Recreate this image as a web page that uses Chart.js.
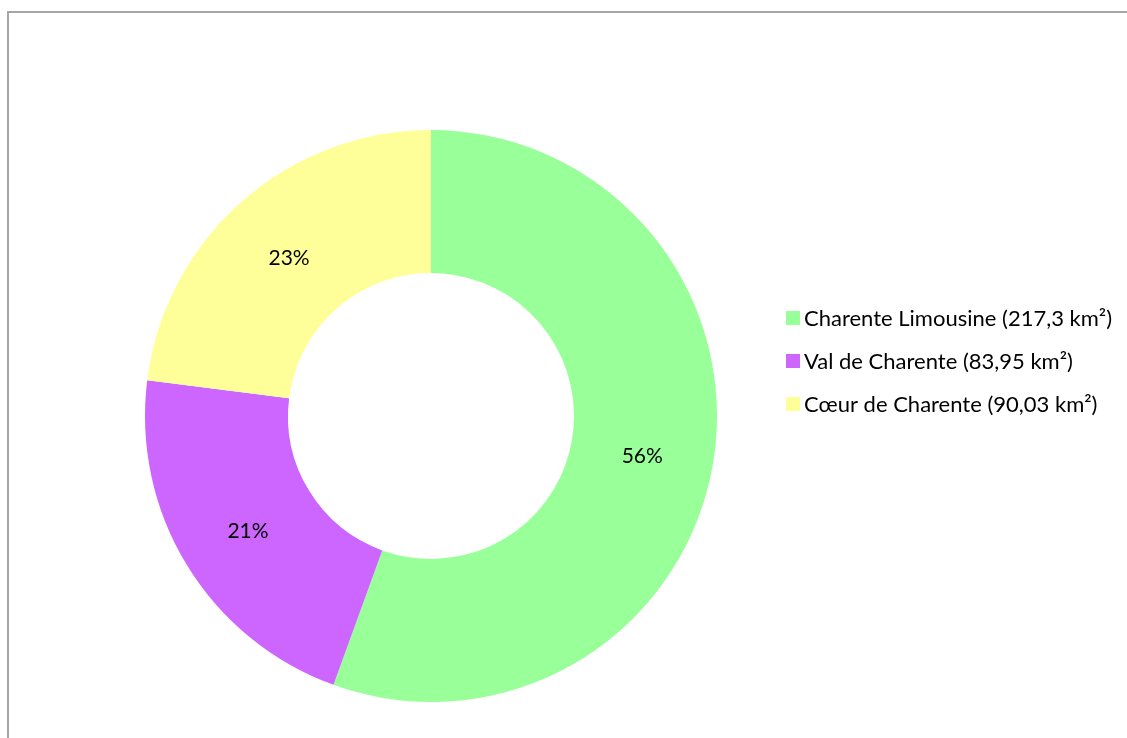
<!DOCTYPE html>
<html>
<head>
<meta charset="utf-8">
<script src="https://cdn.jsdelivr.net/npm/chart.js@4"></script>
<style>
  html, body { margin: 0; padding: 0; background: #fff; overflow: hidden; }
  #frame { position: absolute; left: 7px; top: 11px; width: 1200px; height: 800px;
           border-top: 2px solid #a6a6a6; border-left: 2px solid #a6a6a6; }
  #wrap { position: absolute; left: 0; top: 0; width: 1127px; height: 738px; }
</style>
</head>
<body>
<div id="frame"></div>
<div id="wrap"><canvas id="donut"></canvas></div>
<script>
// data
var labels = ['Charente Limousine (217,3 km²)', 'Val de Charente (83,95 km²)', 'Cœur de Charente (90,03 km²)'];
var areas = [217.3, 83.95, 90.03];
var colors = ['#99FF99', '#CC66FF', '#FFFF99'];

var FONT = 'Lato, "Open Sans", sans-serif';

// percentage labels in the middle of each slice
var pctLabels = {
  id: 'pctLabels',
  afterDatasetsDraw: function (chart) {
    var ctx = chart.ctx;
    var meta = chart.getDatasetMeta(0);
    var total = areas.reduce(function (a, b) { return a + b; }, 0);
    ctx.save();
    ctx.font = '21px ' + FONT;
    ctx.fillStyle = '#000';
    ctx.textAlign = 'center';
    ctx.textBaseline = 'middle';
    meta.data.forEach(function (arc, i) {
      var p = arc.tooltipPosition();
      ctx.fillText(Math.round(areas[i] / total * 100) + '%', p.x, p.y + 3);
    });
    ctx.restore();
  }
};

// legend on the right, drawn by hand to place it like the original
var sideLegend = {
  id: 'sideLegend',
  afterDraw: function (chart) {
    var ctx = chart.ctx;
    ctx.save();
    ctx.font = '22px ' + FONT;
    ctx.textBaseline = 'middle';
    labels.forEach(function (t, i) {
      var y = 318 + i * 43;
      ctx.fillStyle = colors[i];
      ctx.fillRect(786, y - 7, 14, 14);
      ctx.fillStyle = '#000';
      ctx.fillText(t, 804, y + 1);
    });
    ctx.restore();
  }
};

new Chart(document.getElementById('donut').getContext('2d'), {
  type: 'doughnut',
  data: {
    labels: labels,
    datasets: [{
      data: areas,
      backgroundColor: colors,
      borderWidth: 0,
      hoverOffset: 0
    }]
  },
  options: {
    responsive: true,
    maintainAspectRatio: false,
    animation: false,
    cutout: '50%',
    layout: { padding: { left: 145, right: 410, top: 130, bottom: 36 } },
    plugins: {
      legend: { display: false },
      tooltip: { enabled: false }
    }
  },
  plugins: [pctLabels, sideLegend]
});
</script>
</body>
</html>
